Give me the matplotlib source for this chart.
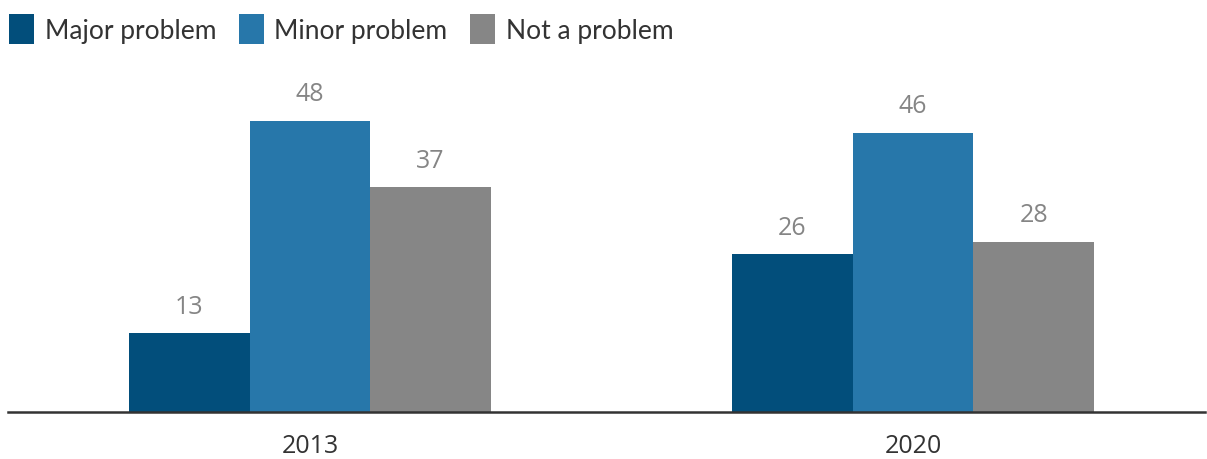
import matplotlib
matplotlib.use("Agg")
import matplotlib.pyplot as plt
from matplotlib.patches import Patch
import numpy as np

years = ["2013", "2020"]
series = ["Major problem", "Minor problem", "Not a problem"]
major = [13, 26]
minor = [48, 46]
not_problem = [37, 28]
colors = ["#024e7b", "#2777aa", "#868686"]

plt.rcParams['font.family'] = ['Lato', 'DejaVu Sans']

fig = plt.figure(figsize=(12.07, 4.6), dpi=100)
ax = fig.add_axes([8 / 1207, 47 / 460, 1197 / 1207, 353 / 460])

x = np.arange(len(years))
w = 0.2
for i, (vals, col) in enumerate(zip([major, minor, not_problem], colors)):
    pos = x + (i - 1) * w
    ax.bar(pos, vals, width=w, color=col)
    for p, v in zip(pos, vals):
        ax.text(p, v + 2.4, str(v), ha='center', va='bottom', fontsize=18,
                color='#858585', family=['Open Sans', 'DejaVu Sans'])

ax.set_xlim(-0.5008, 1.484)
ax.set_ylim(0, 353 / 6.07)
ax.set_xticks(x)
ax.set_xticklabels(years, fontsize=18, color='#333333', family=['Open Sans', 'DejaVu Sans'])
ax.tick_params(axis='x', length=0, pad=15)
ax.set_yticks([])
for s in ['top', 'right', 'left']:
    ax.spines[s].set_visible(False)
ax.spines['bottom'].set_color('#333333')
ax.spines['bottom'].set_linewidth(1.8)

handles = [Patch(facecolor=c, label=s) for c, s in zip(colors, series)]
fig.legend(handles=handles, loc='upper left', bbox_to_anchor=(0.0, 1 - 6 / 460), ncol=3,
           frameon=False, fontsize=19, handlelength=0.95, handleheight=1.35,
           handletextpad=0.4, columnspacing=0.85, borderaxespad=0.0, borderpad=0.35,
           labelcolor='#333333')

fig.savefig("out.png", dpi=100)
